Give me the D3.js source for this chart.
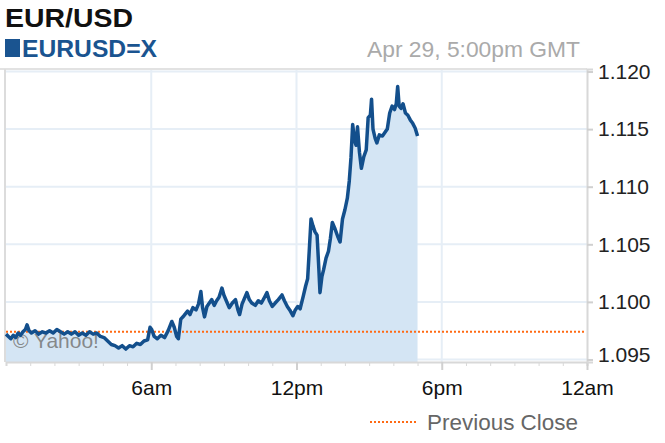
<!DOCTYPE html>
<html>
<head>
<meta charset="utf-8">
<script src="https://cdn.jsdelivr.net/npm/d3@7"></script>
<style>
    body { margin: 0; background: #fff; }
    svg { display: block; font-family: "Liberation Sans", Arial, sans-serif; }
</style>
</head>
<body>
<div id="chart"></div>
<script>
// hours since midnight GMT, Apr 29
const hours = [
    0.00, 0.10, 0.20, 0.30, 0.40, 0.50, 0.60, 0.70, 0.80, 0.87, 0.95, 1.05, 1.20, 1.35, 1.50, 1.65,
    1.80, 1.95, 2.10, 2.25, 2.40, 2.55, 2.70, 2.85, 3.00, 3.15, 3.30, 3.45, 3.60, 3.75, 3.90, 4.05,
    4.20, 4.35, 4.50, 4.65, 4.80, 4.95, 5.10, 5.25, 5.40, 5.55, 5.70, 5.85, 5.95, 6.02, 6.12, 6.25,
    6.40, 6.55, 6.70, 6.85, 6.95, 7.05, 7.12, 7.22, 7.35, 7.50, 7.60, 7.72, 7.85, 7.95, 8.05, 8.12,
    8.20, 8.30, 8.40, 8.50, 8.60, 8.70, 8.80, 8.92, 9.00, 9.10, 9.22, 9.35, 9.48, 9.58, 9.65, 9.75,
    9.85, 9.95, 10.05, 10.15, 10.30, 10.42, 10.55, 10.68, 10.78, 10.88, 11.00, 11.12, 11.25, 11.40,
    11.50, 11.62, 11.72, 11.85, 11.95, 12.05, 12.15, 12.28, 12.38, 12.46, 12.52, 12.60, 12.68, 12.76,
    12.85, 12.92, 12.97, 13.05, 13.12, 13.22, 13.32, 13.40, 13.48, 13.58, 13.70, 13.80, 13.90, 14.00,
    14.10, 14.18, 14.25, 14.32, 14.40, 14.46, 14.52, 14.60, 14.68, 14.78, 14.88, 14.96, 15.05, 15.10,
    15.16, 15.25, 15.32, 15.42, 15.55, 15.65, 15.75, 15.85, 15.95, 16.05, 16.12, 16.18, 16.24, 16.32,
    16.40, 16.50, 16.60, 16.70, 16.80, 16.90, 17.00
];

const prices = [
    1.0972, 1.0970, 1.0968, 1.0971, 1.0969, 1.0973, 1.0971, 1.0974, 1.0976, 1.0980, 1.0975, 1.0973, 1.0975, 1.0972, 1.0974, 1.0973,
    1.0975, 1.0973, 1.0976, 1.0974, 1.0972, 1.0974, 1.0972, 1.0974, 1.0971, 1.0973, 1.0971, 1.0974, 1.0972, 1.0973, 1.0970, 1.0969,
    1.0966, 1.0963, 1.0962, 1.0960, 1.0962, 1.0959, 1.0962, 1.0961, 1.0964, 1.0963, 1.0966, 1.0967, 1.0978, 1.0976, 1.0970, 1.0968,
    1.0971, 1.0969, 1.0975, 1.0983, 1.0978, 1.0970, 1.0968, 1.0985, 1.0988, 1.0992, 1.0989, 1.0995, 1.0993, 1.0998, 1.1009, 1.0995,
    1.0987, 1.0996, 1.0999, 1.1002, 1.0997, 1.1001, 1.1004, 1.1012, 1.1006, 1.1001, 1.0995, 1.0999, 1.1002, 1.0993, 1.0989, 1.0998,
    1.1003, 1.1008, 1.1002, 1.0999, 1.0997, 1.1001, 1.0999, 1.1004, 1.1008, 1.1001, 1.0996, 1.0999, 1.1002, 1.1006,
    1.1001, 1.0996, 1.0993, 1.0988, 1.0993, 1.0996, 1.0994, 1.1005, 1.1014, 1.1020, 1.1042, 1.1072, 1.1066, 1.1061,
    1.1058, 1.1030, 1.1008, 1.1022, 1.1028, 1.1038, 1.1044, 1.1055, 1.1069, 1.1064, 1.1057, 1.1052, 1.1072, 1.1080,
    1.1090, 1.1105, 1.1125, 1.1154, 1.1140, 1.1136, 1.1152, 1.1130, 1.1116, 1.1126, 1.1132, 1.1160, 1.1162, 1.1176,
    1.1150, 1.1142, 1.1138, 1.1145, 1.1144, 1.1147, 1.1150, 1.1164, 1.1170, 1.1167, 1.1172, 1.1187, 1.1170, 1.1168,
    1.1172, 1.1164, 1.1162, 1.1158, 1.1155, 1.1151, 1.1144
];

const previousClose = 1.0974;

const yTicks = [1.095, 1.100, 1.105, 1.110, 1.115, 1.120];
const xTicks = [6, 12, 18, 24];
const xTickLabels = ['6am', '12pm', '6pm', '12am'];
const minorTicks = d3.range(1, 25);

class QuoteChart {

    constructor(opts) {
        this.element = opts.element;
        this.data = opts.hours.map((h, i) => ({ h: h, v: opts.prices[i] }));
        this.draw();
    }

    draw() {
        this.width = 665;
        this.height = 443;
        this.plot = { left: 6, right: 587, top: 69, bottom: 362 };

        this.element.innerHTML = '';
        this.svg = d3.select(this.element).append('svg')
            .attr('width', this.width)
            .attr('height', this.height);

        this.createScales();
        this.addHeader();
        this.addGrid();
        this.addArea();
        this.addAxes();
        this.addLegend();
    }

    createScales() {
        this.xScale = d3.scaleLinear()
            .domain([0, 24])
            .range([this.plot.left, this.plot.right]);

        this.yScale = d3.scaleLinear()
            .domain([1.09478, 1.12022])
            .range([this.plot.bottom, this.plot.top]);
    }

    addHeader() {
        this.svg.append('text')
            .attr('x', 5)
            .attr('y', 27)
            .attr('font-size', 25)
            .attr('font-weight', 'bold')
            .attr('fill', '#111')
            .attr('textLength', 128)
            .attr('lengthAdjust', 'spacingAndGlyphs')
            .text('EUR/USD');

        this.svg.append('rect')
            .attr('x', 5)
            .attr('y', 39)
            .attr('width', 15)
            .attr('height', 18)
            .attr('fill', '#1a5490');

        this.svg.append('text')
            .attr('x', 22)
            .attr('y', 57)
            .attr('font-size', 23)
            .attr('font-weight', 'bold')
            .attr('fill', '#1a5490')
            .attr('textLength', 135)
            .attr('lengthAdjust', 'spacingAndGlyphs')
            .text('EURUSD=X');

        this.svg.append('text')
            .attr('x', 580)
            .attr('y', 57)
            .attr('font-size', 22)
            .attr('fill', '#aaa')
            .attr('text-anchor', 'end')
            .attr('textLength', 213)
            .attr('lengthAdjust', 'spacingAndGlyphs')
            .text('Apr 29, 5:00pm GMT');
    }

    addGrid() {
        const p = this.plot;

        this.svg.append('g')
            .selectAll('line')
            .data(yTicks)
            .enter()
            .append('line')
            .attr('x1', p.left)
            .attr('x2', p.right)
            .attr('y1', d => this.yScale(d))
            .attr('y2', d => this.yScale(d))
            .attr('stroke', '#e6eef6')
            .attr('stroke-width', 2);

        this.svg.append('g')
            .selectAll('line')
            .data(xTicks.slice(0, 3))
            .enter()
            .append('line')
            .attr('x1', d => this.xScale(d))
            .attr('x2', d => this.xScale(d))
            .attr('y1', p.top)
            .attr('y2', p.bottom)
            .attr('stroke', '#e6eef6')
            .attr('stroke-width', 2);

        // frame: top and left border
        this.svg.append('line')
            .attr('x1', 0).attr('x2', p.right)
            .attr('y1', p.top).attr('y2', p.top)
            .attr('stroke', '#e2e2e2')
            .attr('stroke-width', 2);

        this.svg.append('line')
            .attr('x1', 5).attr('x2', 5)
            .attr('y1', p.top).attr('y2', p.bottom)
            .attr('stroke', '#dcdcdc')
            .attr('stroke-width', 2);
    }

    addArea() {
        const area = d3.area()
            .x(d => this.xScale(d.h))
            .y0(this.plot.bottom)
            .y1(d => this.yScale(d.v));

        const line = d3.line()
            .x(d => this.xScale(d.h))
            .y(d => this.yScale(d.v));

        this.svg.append('path')
            .datum(this.data)
            .attr('d', area)
            .attr('fill', '#d4e5f4');

        // watermark sits under the price line
        this.svg.append('text')
            .attr('x', 13)
            .attr('y', 348)
            .attr('font-size', 21)
            .attr('fill', '#777')
            .attr('fill-opacity', 0.85)
            .text('\u00a9 Yahoo!');

        this.svg.append('line')
            .attr('x1', this.xScale(0))
            .attr('x2', this.plot.right - 2)
            .attr('y1', this.yScale(previousClose))
            .attr('y2', this.yScale(previousClose))
            .attr('stroke', '#ff6a13')
            .attr('stroke-width', 2)
            .attr('stroke-dasharray', '2,2');

        this.svg.append('path')
            .datum(this.data)
            .attr('d', line)
            .attr('fill', 'none')
            .attr('stroke', '#134f8c')
            .attr('stroke-width', 3.5)
            .attr('stroke-linejoin', 'round');
    }

    addAxes() {
        const p = this.plot;

        const xMinor = d3.axisBottom(this.xScale)
            .tickValues(minorTicks)
            .tickSize(4)
            .tickFormat('');

        const xMajor = d3.axisBottom(this.xScale)
            .tickValues(xTicks)
            .tickSize(8)
            .tickPadding(6)
            .tickFormat((d, i) => xTickLabels[i]);

        const gMinor = this.svg.append('g')
            .attr('transform', `translate(0,${p.bottom})`)
            .call(xMinor);

        const gMajor = this.svg.append('g')
            .attr('transform', `translate(0,${p.bottom})`)
            .call(xMajor);

        gMinor.select('.domain').attr('stroke', '#d8d8d8').attr('stroke-width', 2);
        gMinor.selectAll('.tick line').attr('stroke', '#d8d8d8');
        gMajor.select('.domain').remove();
        gMajor.selectAll('.tick line').attr('stroke', '#d0d0d0').attr('stroke-width', 2);
        gMajor.selectAll('text')
            .attr('font-size', 21)
            .attr('font-family', '"Liberation Sans", Arial, sans-serif')
            .attr('fill', '#111')
            .attr('dy', '0.9em');

        const yAxis = d3.axisRight(this.yScale)
            .tickValues(yTicks)
            .tickSize(6)
            .tickPadding(5)
            .tickFormat(d3.format('.3f'));

        const gy = this.svg.append('g')
            .attr('transform', `translate(${p.right},0)`)
            .call(yAxis);

        gy.select('.domain').attr('stroke', '#d8d8d8').attr('stroke-width', 2);
        gy.selectAll('.tick line').attr('stroke', '#d0d0d0').attr('stroke-width', 2);
        gy.selectAll('text')
            .attr('font-size', 21)
            .attr('font-family', '"Liberation Sans", Arial, sans-serif')
            .attr('fill', '#222')
            .attr('y', d => Math.min(this.yScale(d), 355) - this.yScale(d));
    }

    addLegend() {
        this.svg.append('line')
            .attr('x1', 370)
            .attr('x2', 418)
            .attr('y1', 422)
            .attr('y2', 422)
            .attr('stroke', '#ff6a13')
            .attr('stroke-width', 2)
            .attr('stroke-dasharray', '2,2');

        this.svg.append('text')
            .attr('x', 427)
            .attr('y', 430)
            .attr('font-size', 22)
            .attr('fill', '#666')
            .attr('textLength', 151)
            .attr('lengthAdjust', 'spacingAndGlyphs')
            .text('Previous Close');
    }
}

new QuoteChart({
    element: document.getElementById('chart'),
    hours: hours,
    prices: prices
});
</script>
</body>
</html>
